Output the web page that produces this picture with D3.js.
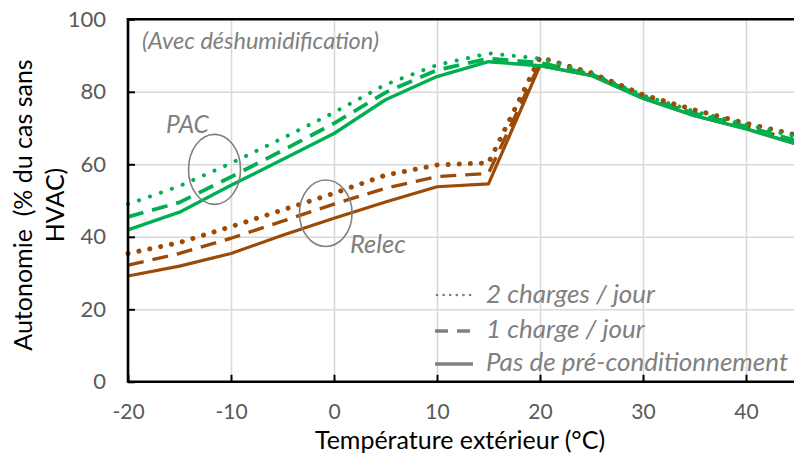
<!DOCTYPE html>
<html>
<head>
<meta charset="utf-8">
<script src="https://cdn.jsdelivr.net/npm/d3@7"></script>
<style>
  html, body { margin: 0; padding: 0; background: #fff; }
  svg { display: block; font-family: Lato, "Open Sans", sans-serif; }
  text { white-space: pre; }
</style>
</head>
<body>
<svg id="chart" width="794" height="454"></svg>
<script>
// ---- data ----
const temps = [-20, -15, -10, -5, 0, 5, 10, 15, 20, 25, 30, 35, 40, 45];
const pacSolid  = [41.9, 46.8, 54.2, 61.3, 68.5, 77.8, 84.2, 88.3, 87.2, 84.5, 78.2, 73.4, 69.8, 65.5];
const pacDashed = [45.5, 49.5, 56.5, 63.8, 71.3, 79.8, 86.0, 89.2, 88.0, 84.8, 78.6, 74.0, 70.4, 66.4];
const pacDotted = [49.0, 54.0, 60.3, 67.2, 74.3, 82.0, 87.4, 90.6, 89.2, 85.0, 79.0, 74.6, 71.0, 67.5];
const relSolid  = [29.2, 31.9, 35.4, 40.4, 45.1, 49.6, 53.8, 54.6, 87.2, 84.5, 78.2, 73.4, 69.8, 65.5];
const relDashed = [32.2, 35.4, 39.6, 44.3, 49.0, 53.4, 56.6, 57.5, 88.0, 84.8, 78.6, 74.0, 70.4, 66.4];
const relDotted = [35.4, 38.4, 42.8, 47.4, 52.0, 57.0, 59.8, 60.4, 89.5, 85.2, 79.2, 75.0, 71.3, 68.0];
const xTicks = [-20, -10, 0, 10, 20, 30, 40];
const yTicks = [0, 20, 40, 60, 80, 100];
const legendLabels = ["2 charges / jour", "1 charge / jour", "Pas de pré-conditionnement"];
const groupLabels = ["PAC", "Relec"];
const noteText = "(Avec déshumidification)";
const xTitle = "Température extérieur (°C)";
const yTitleLines = ["Autonomie  (% du cas sans", "HVAC)"];

// ---- layout ----
const svg = d3.select("#chart");
const x = d3.scaleLinear().domain([-20, 45]).range([128, 797.5]);
const y = d3.scaleLinear().domain([0, 100]).range([381.8, 19.3]);
const green = "#00b050", brown = "#9c4a06", grey = "#808080";

// gridlines
svg.append("g").attr("transform", `translate(0,${y(0)})`)
  .call(d3.axisBottom(x).tickValues(xTicks).tickSize(-(y(0) - y(100))).tickFormat(""))
  .call(g => g.select(".domain").remove())
  .call(g => g.selectAll("line").attr("stroke", "#d9d9d9").attr("stroke-width", 1.6));
svg.append("g").attr("transform", `translate(${x(-20)},0)`)
  .call(d3.axisLeft(y).tickValues([20, 40, 60, 80]).tickSize(-(x(45) - x(-20))).tickFormat(""))
  .call(g => g.select(".domain").remove())
  .call(g => g.selectAll("line").attr("stroke", "#d9d9d9").attr("stroke-width", 1.6));

// series
const line = d3.line().x((d, i) => x(temps[i])).y(d => y(d));
const series = [
  { v: relSolid,  c: brown, dash: null, w: 3.2 },
  { v: relDashed, c: brown, dash: "16,9", w: 3.4 },
  { v: pacSolid,  c: green, dash: null, w: 3.4 },
  { v: pacDashed, c: green, dash: "16,9", w: 3.8 },
  { v: relDotted, c: brown, dash: "0.1,11", w: 5.0, cap: "round" },
  { v: pacDotted, c: green, dash: "0.1,11.5", w: 4.0, cap: "round" }
];
series.forEach(s => {
  svg.append("path").datum(s.v).attr("d", line)
    .attr("fill", "none").attr("stroke", s.c).attr("stroke-width", s.w)
    .attr("stroke-dasharray", s.dash).attr("stroke-linecap", s.cap || "butt")
    .attr("stroke-linejoin", "round");
});

// axes
const xAxis = svg.append("g").attr("transform", `translate(0,${y(0)})`)
  .call(d3.axisBottom(x).tickValues(xTicks).tickSize(-7).tickPadding(22.3).tickFormat(d => String(d)));
xAxis.select(".domain").attr("stroke", "#000").attr("stroke-width", 2.6).attr("d", `M${x(-20)},0H794`);
xAxis.selectAll(".tick line").attr("stroke", "#000").attr("stroke-width", 2);
xAxis.selectAll("text").attr("fill", "#595959").style("font-size", "21px").attr("font-family", "Lato");

const yAxis = svg.append("g").attr("transform", `translate(${x(-20)},0)`)
  .call(d3.axisLeft(y).tickValues(yTicks).tickSize(-7).tickPadding(22).tickFormat(d => String(d)));
yAxis.select(".domain").attr("stroke", "#000").attr("stroke-width", 2.6).attr("d", `M0,${y(0) + 1}V${y(100)}`);
yAxis.selectAll(".tick line").attr("stroke", "#000").attr("stroke-width", 2);
yAxis.selectAll("text").attr("fill", "#595959").style("font-size", "22px").attr("font-family", "Lato");

// top border
svg.append("line").attr("x1", x(-20) - 1.3).attr("x2", 794).attr("y1", y(100)).attr("y2", y(100))
  .attr("stroke", "#000").attr("stroke-width", 2.6);

// ellipses & group labels
svg.append("ellipse").attr("cx", x(-11.6)).attr("cy", y(58.6)).attr("rx", 26).attr("ry", 35)
  .attr("fill", "none").attr("stroke", "#808080").attr("stroke-width", 1.6);
svg.append("ellipse").attr("cx", x(-0.8)).attr("cy", y(46.5)).attr("rx", 26.3).attr("ry", 33.3)
  .attr("fill", "none").attr("stroke", "#808080").attr("stroke-width", 1.6);
svg.append("text").attr("x", 166).attr("y", 133).text(groupLabels[0])
  .attr("fill", grey).style("font-style", "italic").style("font-size", "24.5px");
svg.append("text").attr("x", 350).attr("y", 252.5).text(groupLabels[1])
  .attr("fill", grey).style("font-style", "italic").style("font-size", "25.5px");

// note
svg.append("text").attr("x", 142).attr("y", 49).text(noteText)
  .attr("fill", grey).style("font-style", "italic").style("font-size", "23.5px");

// legend
const legY = [295, 331, 364];
const legTextY = [303, 338, 371];
const legDash = ["0.1,6.5", "13,9", null];
const lg = svg.append("g");
legendLabels.forEach((t, i) => {
  lg.append("line").attr("x1", i === 0 ? 437 : 435).attr("x2", 473).attr("y1", legY[i]).attr("y2", legY[i])
    .attr("stroke", grey).attr("stroke-width", i === 0 ? 2.6 : 3.6)
    .attr("stroke-dasharray", legDash[i]).attr("stroke-linecap", i === 0 ? "round" : "butt");
  lg.append("text").attr("x", 486).attr("y", legTextY[i]).text(t)
    .attr("fill", grey).style("font-style", "italic").style("font-size", "26px");
});

// axis titles
svg.append("text").attr("x", 460).attr("y", 449).attr("text-anchor", "middle")
  .text(xTitle).attr("fill", "#000").style("font-size", "25px");
yTitleLines.forEach((t, i) => {
  svg.append("text").attr("transform", `translate(${32 + i * 32},205) rotate(-90)`)
    .attr("text-anchor", "middle").text(t).attr("fill", "#000").style("font-size", "25px");
});
</script>
</body>
</html>
